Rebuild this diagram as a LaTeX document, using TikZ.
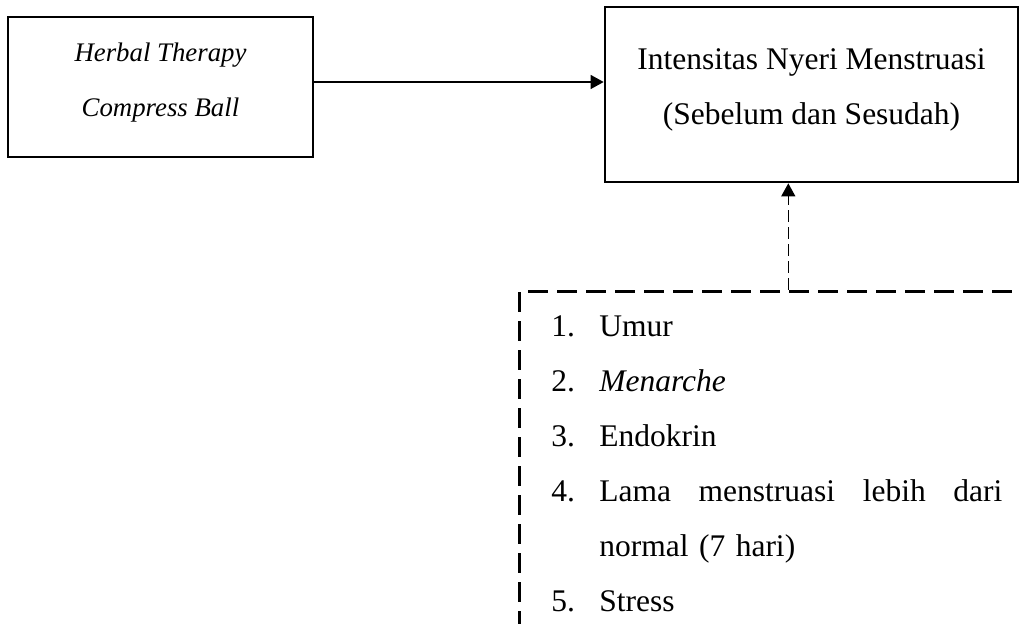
\documentclass[tikz,border=0pt]{standalone}
\usepackage{fontspec}
\setmainfont{Liberation Serif}
\usetikzlibrary{arrows.meta, positioning}

\begin{document}
\begin{tikzpicture}[x=0.5pt, y=-0.5pt,
  varbox/.style={rectangle, draw=black, line width=1.35pt, inner sep=0pt, align=center},
  faktorbox/.style={rectangle, draw=black, line width=1.3pt, dash pattern=on 10pt off 4.5pt, inner xsep=0pt, inner ysep=12pt, align=left},
  tip/.style={-{Triangle[length=6.5pt, width=7pt]}}]
\useasboundingbox (0, 0) rectangle (1020, 624);
\clip (0, 0) rectangle (1020, 624);
\node[varbox, minimum width=152.5pt, minimum height=70pt, font=\fontsize{13.4pt}{27.5pt}\selectfont\itshape] (herbal) at (160.5, 87) {Herbal Therapy\\Compress Ball\rule[-6.9pt]{0pt}{6.9pt}};
\node[varbox, minimum width=206.5pt, minimum height=87.5pt, font=\fontsize{15.75pt}{27.5pt}\selectfont] (nyeri) at (811.5, 94.5) {Intensitas Nyeri Menstruasi\\(Sebelum dan Sesudah)\rule[-8.4pt]{0pt}{8.4pt}};
\node[faktorbox, minimum width=269pt, text width=237pt, anchor=north west, font=\fontsize{15.75pt}{27.5pt}\selectfont] (faktor) at (518, 290) {%
\makebox[24pt][l]{1.}Umur\\
\makebox[24pt][l]{2.}\textit{Menarche}\\
\makebox[24pt][l]{3.}Endokrin\\
\makebox[24pt][l]{4.}\makebox[201.5pt][l]{Lama\hspace{\fill}menstruasi\hspace{\fill}lebih\hspace{\fill}dari}\\
\hspace*{24pt}normal (7 hari)\\
\makebox[24pt][l]{5.}Stress};
\draw[tip, line width=0.6pt] ([yshift=2.5pt]herbal.east) -- ([yshift=2.5pt]herbal.east -| nyeri.west);
\draw[tip, line width=0.6pt, dash pattern=on 6pt off 2.5pt] (faktor.north) -- (faktor.north |- nyeri.south);
\end{tikzpicture}
\end{document}
